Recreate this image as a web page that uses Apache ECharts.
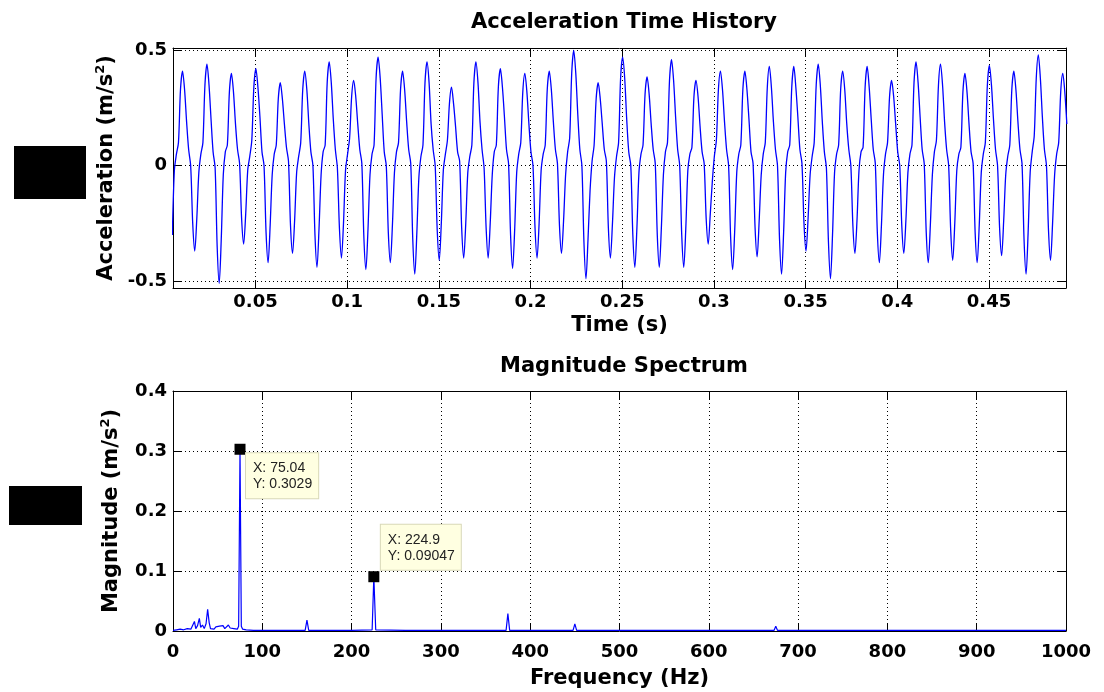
<!DOCTYPE html>
<html><head><meta charset="utf-8">
<script src="https://cdn.jsdelivr.net/npm/echarts@6/dist/echarts.min.js"></script>
<style>html,body{margin:0;padding:0;background:#fff}#c{width:1104px;height:692px}</style>
</head><body><div id="c"></div>
<script>
// ---- Acceleration time history (sampled, start time + step in seconds) ----
const timeStart = 0.00464;
const timeStep = 0.0011112;
const acceleration = [
 -0.30, -0.02, 0.05, 0.10, 0.33,
 0.41, 0.33, 0.19, 0.07, 0.00, -0.25, -0.37, -0.23, -0.03, 0.05, 0.10, 0.35,
 0.44, 0.35, 0.20, 0.06, -0.01, -0.35, -0.51, -0.32, -0.04, 0.06, 0.09, 0.32,
 0.40, 0.32, 0.18, 0.07, 0.01, -0.23, -0.34, -0.21, -0.02, 0.04, 0.11, 0.34,
 0.42, 0.34, 0.21, 0.06, 0.00, -0.29, -0.42, -0.26, -0.04, 0.05, 0.09, 0.29,
 0.36, 0.29, 0.18, 0.08, 0.02, -0.26, -0.38, -0.24, -0.03, 0.04, 0.10, 0.33,
 0.41, 0.33, 0.18, 0.06, 0.00, -0.30, -0.44, -0.27, -0.04, 0.06, 0.09, 0.36,
 0.45, 0.36, 0.20, 0.07, -0.01, -0.27, -0.40, -0.25, -0.02, 0.05, 0.12, 0.30,
 0.37, 0.30, 0.18, 0.07, 0.01, -0.31, -0.45, -0.28, -0.04, 0.05, 0.09, 0.38,
 0.47, 0.38, 0.22, 0.06, 0.00, -0.29, -0.42, -0.26, -0.03, 0.06, 0.10, 0.33,
 0.41, 0.33, 0.19, 0.07, 0.01, -0.32, -0.47, -0.29, -0.05, 0.04, 0.09, 0.36,
 0.45, 0.36, 0.18, 0.07, 0.00, -0.28, -0.41, -0.25, -0.02, 0.05, 0.11, 0.27,
 0.34, 0.27, 0.17, 0.06, 0.02, -0.27, -0.40, -0.25, -0.03, 0.04, 0.09, 0.36,
 0.45, 0.36, 0.19, 0.07, -0.01, -0.27, -0.40, -0.25, -0.04, 0.06, 0.09, 0.34,
 0.42, 0.34, 0.21, 0.07, 0.01, -0.30, -0.445, -0.28, -0.03, 0.05, 0.10, 0.32,
 0.40, 0.32, 0.18, 0.06, 0.00, -0.27, -0.40, -0.25, -0.02, 0.05, 0.09, 0.33,
 0.41, 0.33, 0.19, 0.07, 0.01, -0.26, -0.38, -0.24, -0.04, 0.06, 0.12, 0.40,
 0.50, 0.40, 0.22, 0.07, 0.00, -0.33, -0.49, -0.32, -0.11, 0.02, 0.09, 0.29,
 0.36, 0.29, 0.18, 0.07, 0.02, -0.27, -0.40, -0.25, -0.05, 0.04, 0.10, 0.38,
 0.47, 0.38, 0.20, 0.06, 0.00, -0.30, -0.44, -0.27, -0.03, 0.05, 0.09, 0.31,
 0.385, 0.31, 0.18, 0.07, 0.01, -0.30, -0.44, -0.27, -0.04, 0.06, 0.10, 0.37,
 0.46, 0.37, 0.21, 0.07, 0.00, -0.30, -0.44, -0.27, -0.02, 0.05, 0.08, 0.30,
 0.37, 0.30, 0.17, 0.06, 0.01, -0.23, -0.34, -0.21, -0.07, 0.04, 0.11, 0.33,
 0.41, 0.33, 0.19, 0.07, 0.00, -0.31, -0.45, -0.28, -0.03, 0.05, 0.09, 0.33,
 0.41, 0.33, 0.20, 0.06, 0.01, -0.27, -0.395, -0.24, -0.04, 0.05, 0.10, 0.34,
 0.43, 0.34, 0.19, 0.07, 0.00, -0.32, -0.47, -0.29, -0.03, 0.06, 0.09, 0.34,
 0.43, 0.34, 0.21, 0.07, 0.01, -0.25, -0.37, -0.23, -0.04, 0.04, 0.10, 0.35,
 0.44, 0.35, 0.19, 0.06, -0.01, -0.33, -0.49, -0.30, -0.03, 0.05, 0.09, 0.33,
 0.41, 0.33, 0.18, 0.07, 0.00, -0.26, -0.38, -0.24, -0.02, 0.06, 0.08, 0.34,
 0.43, 0.34, 0.20, 0.07, 0.01, -0.29, -0.42, -0.26, -0.04, 0.05, 0.10, 0.30,
 0.37, 0.30, 0.18, 0.06, 0.00, -0.26, -0.38, -0.24, -0.03, 0.05, 0.09, 0.36,
 0.45, 0.36, 0.21, 0.07, 0.01, -0.29, -0.42, -0.26, -0.04, 0.06, 0.11, 0.35,
 0.44, 0.35, 0.19, 0.07, 0.00, -0.28, -0.41, -0.25, -0.02, 0.05, 0.08, 0.32,
 0.40, 0.32, 0.18, 0.06, 0.01, -0.29, -0.42, -0.26, -0.03, 0.05, 0.10, 0.35,
 0.435, 0.35, 0.20, 0.07, 0.00, -0.27, -0.39, -0.24, -0.04, 0.04, 0.09, 0.33,
 0.41, 0.33, 0.19, 0.07, 0.01, -0.32, -0.47, -0.29, -0.03, 0.06, 0.13, 0.38,
 0.48, 0.38, 0.21, 0.07, 0.00, -0.28, -0.41, -0.25, -0.04, 0.05, 0.10, 0.32,
 0.40, 0.32, 0.18
];
const timeTicks = [0.05, 0.1, 0.15, 0.2, 0.25, 0.3, 0.35, 0.4, 0.45];
const accelTicks = [-0.5, 0, 0.5];

// ---- Magnitude spectrum ----
const freqHz = [0, 4, 8, 12, 16, 20, 22, 24, 25.5, 27.5, 29.5, 31, 33, 35, 37, 38.8, 40.5, 42, 44, 46,
  48, 50, 52, 54, 56, 58, 60, 62, 64, 66, 68, 70, 72, 73.5, 75.04, 76.5, 78, 82, 90, 110,
  130, 148, 150, 152, 170, 200, 223, 224.9, 227, 260, 298, 300, 302, 340, 373, 375, 377, 410, 448, 450,
  452, 490, 523, 525, 527, 560, 598, 600, 602, 640, 673, 675, 677, 720, 748, 750, 752, 790, 823, 825,
  827, 870, 900, 950, 1000];
const magnitude = [0.001, 0.002, 0.003, 0.002, 0.004, 0.003, 0.006, 0.016, 0.004, 0.009, 0.021, 0.006, 0.010, 0.004, 0.012, 0.036, 0.014, 0.004, 0.006, 0.003,
  0.007, 0.004, 0.008, 0.005, 0.009, 0.004, 0.007, 0.010, 0.005, 0.008, 0.004, 0.006, 0.003, 0.008, 0.3029, 0.008, 0.003, 0.002, 0.001, 0.001,
  0.001, 0.001, 0.018, 0.001, 0.001, 0.001, 0.002, 0.09047, 0.002, 0.001, 0.001, 0.004, 0.001, 0.001, 0.001, 0.029, 0.001, 0.001, 0.001, 0.012,
  0.001, 0.001, 0.001, 0.003, 0.001, 0.001, 0.001, 0.003, 0.001, 0.001, 0.001, 0.008, 0.001, 0.001, 0.001, 0.002, 0.001, 0.001, 0.001, 0.002,
  0.001, 0.001, 0.001, 0.001, 0.001];
const dataTipX = [75.04, 224.9];
const dataTipY = [0.3029, 0.09047];

// ---- build ----
const accelData = acceleration.map((v, i) => [timeStart + i * timeStep, v]);
const specData = freqHz.map((f, i) => [f, magnitude[i]]);

const FONT = '"DejaVu Sans", Verdana, sans-serif';
const tickFont = { color: '#000', fontSize: 18, fontWeight: 'bold', fontFamily: FONT };
const nameFont = { color: '#000', fontSize: 21, fontWeight: 'bold', fontFamily: FONT };
const gridLine = { show: true, lineStyle: { color: '#000', width: 1, type: [1, 3] } };
const blackLine = { show: true, onZero: false, lineStyle: { color: '#000', width: 1 } };
const tickIn = { show: true, inside: true, length: 8, lineStyle: { color: '#000' } };
const nameRich = {
  b: { fontSize: 21, fontWeight: 'bold', fontFamily: FONT, color: '#000', lineHeight: 25 },
  sup: { fontSize: 13, fontWeight: 'bold', fontFamily: FONT, color: '#000', lineHeight: 14, verticalAlign: 'top' }
};
const plainNum = v => String(v);

function sideAxis(gi, extra) {
  return Object.assign({
    type: 'value', gridIndex: gi,
    axisLine: blackLine, axisTick: tickIn,
    axisLabel: { show: false }, splitLine: { show: false }
  }, extra);
}

const option = {
  animation: false,
  backgroundColor: '#fff',
  title: [
    { text: 'Acceleration Time History', left: 619, top: 7, textAlign: 'center', textStyle: nameFont },
    { text: 'Magnitude Spectrum', left: 619, top: 351, textAlign: 'center', textStyle: nameFont }
  ],
  grid: [
    { left: 173, top: 48, width: 893, height: 240, show: false },
    { left: 173, top: 391, width: 893, height: 240, show: false }
  ],
  xAxis: [
    { type: 'value', gridIndex: 0, position: 'bottom', min: 0.005, max: 0.492,
      axisLine: blackLine,
      axisTick: Object.assign({ customValues: timeTicks }, tickIn),
      axisLabel: Object.assign({ margin: 5, customValues: timeTicks, formatter: plainNum }, tickFont),
      splitLine: gridLine,
      name: 'Time (s)', nameLocation: 'middle', nameGap: 27, nameTextStyle: nameFont },
    sideAxis(0, { position: 'top', min: 0.005, max: 0.492,
      axisTick: Object.assign({ customValues: timeTicks }, tickIn) }),
    { type: 'value', gridIndex: 1, position: 'bottom', min: 0, max: 1000, interval: 100,
      axisLine: blackLine, axisTick: tickIn,
      axisLabel: Object.assign({ margin: 12, formatter: plainNum }, tickFont),
      splitLine: gridLine,
      name: 'Frequency (Hz)', nameLocation: 'middle', nameGap: 37, nameTextStyle: nameFont },
    sideAxis(1, { position: 'top', min: 0, max: 1000, interval: 100 })
  ],
  yAxis: [
    { type: 'value', gridIndex: 0, position: 'left', min: -0.53, max: 0.51,
      axisLine: blackLine,
      axisTick: Object.assign({ customValues: accelTicks }, tickIn),
      axisLabel: Object.assign({ margin: 6, customValues: accelTicks, formatter: plainNum }, tickFont),
      splitLine: gridLine,
      name: '{b|Acceleration (m/s}{sup|2}{b|)}', nameLocation: 'middle', nameGap: 53,
      nameTextStyle: { rich: nameRich } },
    sideAxis(0, { position: 'right', min: -0.53, max: 0.51,
      axisTick: Object.assign({ customValues: accelTicks }, tickIn) }),
    { type: 'value', gridIndex: 1, position: 'left', min: 0, max: 0.4, interval: 0.1,
      axisLine: blackLine, axisTick: tickIn,
      axisLabel: Object.assign({ margin: 6, formatter: plainNum }, tickFont),
      splitLine: gridLine,
      name: '{b|Magnitude (m/s}{sup|2}{b|)}', nameLocation: 'middle', nameGap: 49,
      nameTextStyle: { rich: nameRich } },
    sideAxis(1, { position: 'right', min: 0, max: 0.4, interval: 0.1 })
  ],
  series: [
    { type: 'line', xAxisIndex: 0, yAxisIndex: 0, data: accelData, showSymbol: false,
      smooth: 0.3, lineStyle: { color: '#0000ff', width: 1.3 }, clip: true, z: 3 },
    { type: 'line', xAxisIndex: 2, yAxisIndex: 2, data: specData, showSymbol: false,
      lineStyle: { color: '#0000ff', width: 1.2 }, clip: true, z: 3,
      markPoint: {
        symbol: 'rect', symbolSize: 11, itemStyle: { color: '#000' },
        data: dataTipX.map((x, i) => ({
          coord: [x, dataTipY[i]],
          label: {
            show: true,
            formatter: 'X: ' + x + '\nY: ' + dataTipY[i],
            position: i === 0 ? [11.5, 9.5] : [12.5, -46.5],
            align: 'left', verticalAlign: 'top',
            backgroundColor: '#ffffe1', borderColor: '#d8d8b8', borderWidth: 1,
            padding: [7, 6, 6, 7], lineHeight: 16,
            color: '#222', fontSize: 14, fontFamily: 'Liberation Sans, Arial, sans-serif'
          }
        }))
      }
    }
  ],
  graphic: [
    { type: 'rect', shape: { x: 14, y: 146, width: 72, height: 53 }, style: { fill: '#000' } },
    { type: 'rect', shape: { x: 9, y: 486, width: 73, height: 39 }, style: { fill: '#000' } }
  ]
};

const chart = echarts.init(document.getElementById('c'), null, { renderer: 'canvas' });
chart.setOption(option);
</script>
</body></html>
